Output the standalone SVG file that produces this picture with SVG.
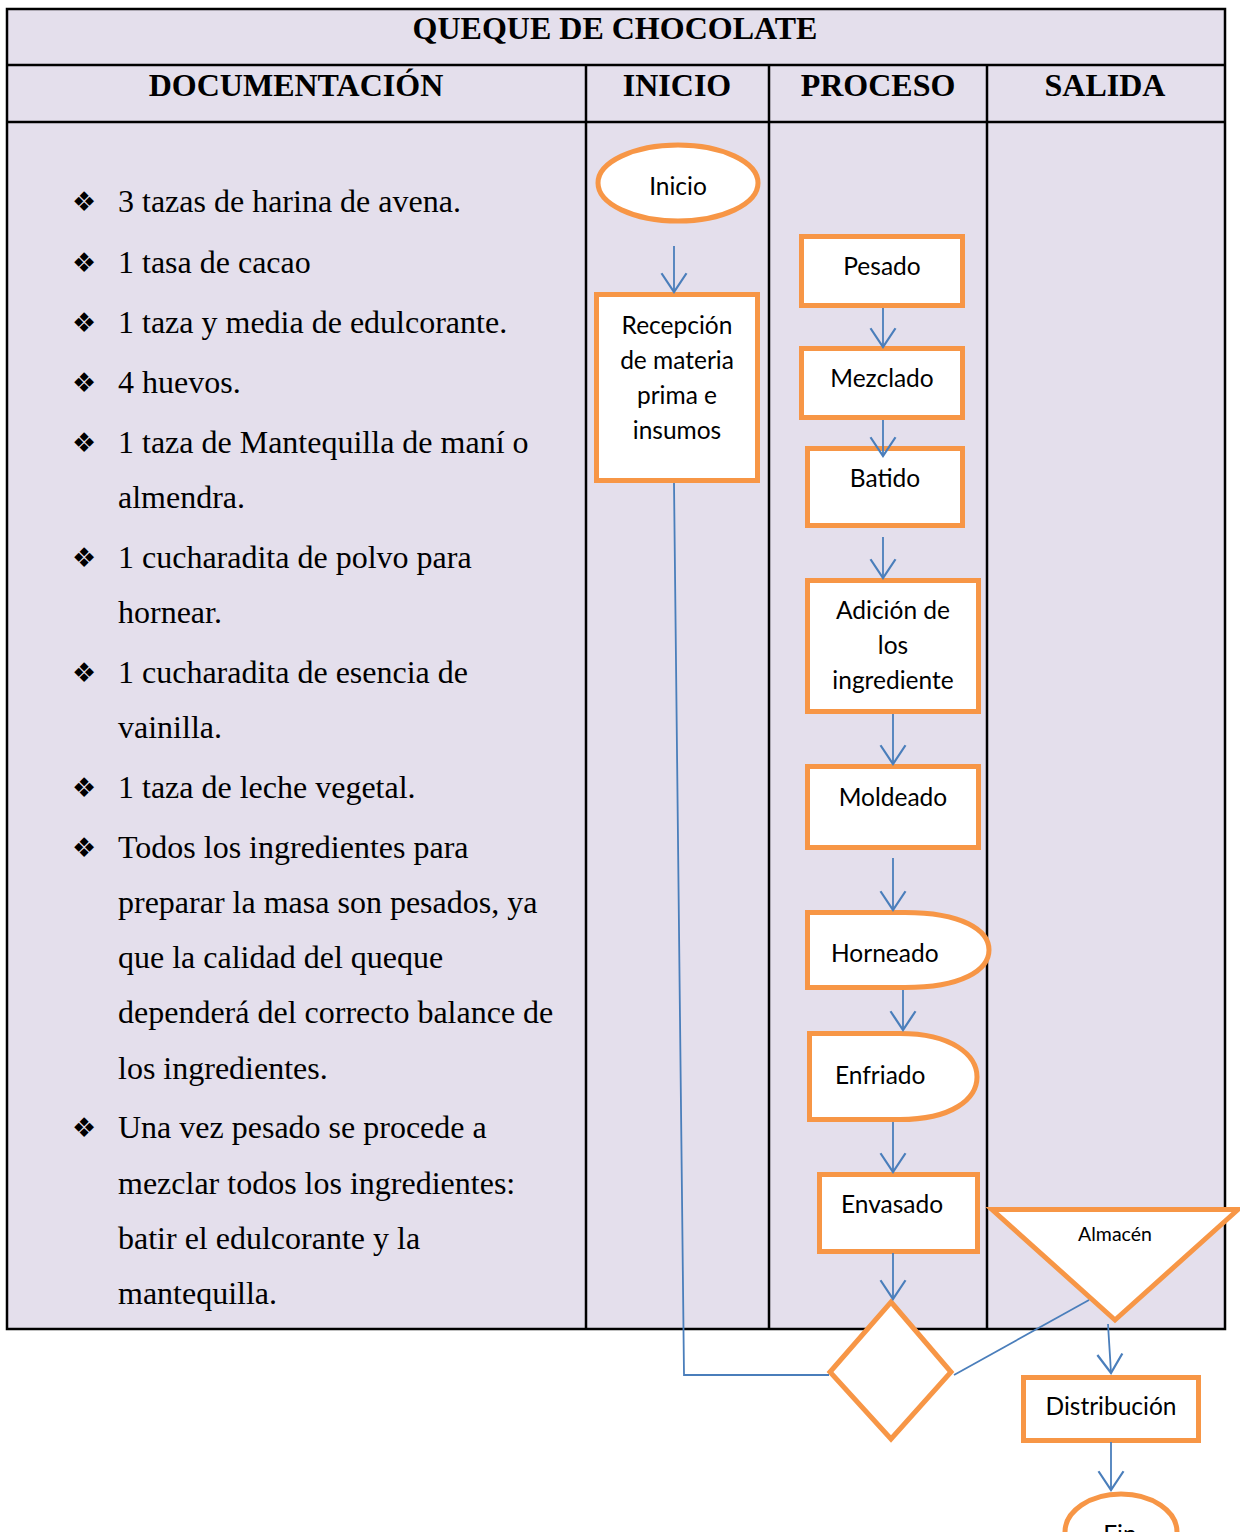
<svg xmlns="http://www.w3.org/2000/svg" width="1240" height="1532" viewBox="0 0 1240 1532">
<defs>
<style>
.tbl{fill:#E4DFEC;stroke:#000;stroke-width:2.5}
.ln{stroke:#000;stroke-width:2.5;fill:none}
.hd{font-family:"Liberation Serif","Times New Roman",serif;font-weight:bold;font-size:32px;fill:#000;text-anchor:middle}
.bd{font-family:"Liberation Serif","Times New Roman",serif;font-size:32px;fill:#000}
.bl{font-family:"DejaVu Sans",sans-serif;font-size:27px;fill:#000;text-anchor:middle}
.nd{fill:#fff;stroke:#F79646;stroke-width:5;stroke-linejoin:miter}
.lb{font-family:Lato,"Open Sans",sans-serif;font-size:24.5px;fill:#000;text-anchor:middle}
.ls{font-family:Lato,"Open Sans",sans-serif;font-size:24.5px;fill:#000}
.sm{font-family:Lato,"Open Sans",sans-serif;font-size:19.5px;fill:#000;text-anchor:middle}
.cn{stroke:#4A7EBB;stroke-width:1.8;fill:none}
</style>
<marker id="ar" markerUnits="userSpaceOnUse" markerWidth="30" markerHeight="30" refX="0" refY="0" viewBox="-17 -12 19 24" orient="auto" overflow="visible">
<path d="M-15,-10 L0,0 L-15,10" fill="none" stroke="#4A7EBB" stroke-width="1.8"/>
</marker>
</defs>

<g id="table">
<rect class="tbl" x="7" y="9" width="1218" height="1320"/>
<line class="ln" x1="7" y1="65" x2="1225" y2="65"/>
<line class="ln" x1="7" y1="122" x2="1225" y2="122"/>
<line class="ln" x1="586" y1="65" x2="586" y2="1329"/>
<line class="ln" x1="769" y1="65" x2="769" y2="1329"/>
<line class="ln" x1="987" y1="65" x2="987" y2="1329"/>
<text class="hd" x="615" y="39">QUEQUE DE CHOCOLATE</text>
<text class="hd" x="296" y="96">DOCUMENTACIÓN</text>
<text class="hd" x="677" y="96">INICIO</text>
<text class="hd" x="878" y="96">PROCESO</text>
<text class="hd" x="1105" y="96">SALIDA</text>
</g>

<g id="documentacion">
<text class="bl" x="84" y="211">❖</text>
<text class="bd" x="118" y="212">3 tazas de harina de avena.</text>
<text class="bl" x="84" y="272">❖</text>
<text class="bd" x="118" y="273">1 tasa de cacao</text>
<text class="bl" x="84" y="332">❖</text>
<text class="bd" x="118" y="333">1 taza y media de edulcorante.</text>
<text class="bl" x="84" y="392">❖</text>
<text class="bd" x="118" y="393">4 huevos.</text>
<text class="bl" x="84" y="452">❖</text>
<text class="bd" x="118" y="453">1 taza de Mantequilla de maní o</text>
<text class="bd" x="118" y="508">almendra.</text>
<text class="bl" x="84" y="567">❖</text>
<text class="bd" x="118" y="568">1 cucharadita de polvo para</text>
<text class="bd" x="118" y="623">hornear.</text>
<text class="bl" x="84" y="682">❖</text>
<text class="bd" x="118" y="683">1 cucharadita de esencia de</text>
<text class="bd" x="118" y="738">vainilla.</text>
<text class="bl" x="84" y="797">❖</text>
<text class="bd" x="118" y="798">1 taza de leche vegetal.</text>
<text class="bl" x="84" y="857">❖</text>
<text class="bd" x="118" y="858">Todos los ingredientes para</text>
<text class="bd" x="118" y="913">preparar la masa son pesados, ya</text>
<text class="bd" x="118" y="968">que la calidad del queque</text>
<text class="bd" x="118" y="1023">dependerá del correcto balance de</text>
<text class="bd" x="118" y="1079">los ingredientes.</text>
<text class="bl" x="84" y="1137">❖</text>
<text class="bd" x="118" y="1138">Una vez pesado se procede a</text>
<text class="bd" x="118" y="1194">mezclar todos los ingredientes:</text>
<text class="bd" x="118" y="1249">batir el edulcorante y la</text>
<text class="bd" x="118" y="1304">mantequilla.</text>
</g>

<g id="n-inicio">
<ellipse class="nd" cx="678" cy="183" rx="80" ry="38"/>
<text class="lb" x="678" y="195">Inicio</text>
</g>
<g id="n-recepcion">
<rect class="nd" x="596.5" y="294.5" width="161" height="186"/>
<text class="lb" x="677" y="334">Recepción</text>
<text class="lb" x="677" y="369">de materia</text>
<text class="lb" x="677" y="404">prima e</text>
<text class="lb" x="677" y="439">insumos</text>
</g>
<g id="n-pesado">
<rect class="nd" x="801.5" y="236.5" width="161" height="69"/>
<text class="lb" x="882" y="275">Pesado</text>
</g>
<g id="n-mezclado">
<rect class="nd" x="801.5" y="348.5" width="161" height="69"/>
<text class="lb" x="882" y="387">Mezclado</text>
</g>
<g id="n-batido">
<rect class="nd" x="807.5" y="448.5" width="155" height="77"/>
<text class="lb" x="885" y="487">Batido</text>
</g>
<g id="n-adicion">
<rect class="nd" x="807.5" y="580.5" width="171" height="131"/>
<text class="lb" x="893" y="619">Adición de</text>
<text class="lb" x="893" y="654">los</text>
<text class="lb" x="893" y="689">ingrediente</text>
</g>
<g id="n-moldeado">
<rect class="nd" x="807.5" y="766.5" width="171" height="81"/>
<text class="lb" x="893" y="806">Moldeado</text>
</g>
<g id="n-horneado">
<path class="nd" d="M807.5,912.5 H905 C962,912.5 989,930 989,950 C989,970 962,987.5 905,987.5 H807.5 Z"/>
<text class="ls" x="831" y="962">Horneado</text>
</g>
<g id="n-enfriado">
<path class="nd" d="M809.5,1033.5 H900 C952,1033.5 977,1055 977,1077 C977,1099 952,1119.5 900,1119.5 H809.5 Z"/>
<text class="ls" x="835" y="1084">Enfriado</text>
</g>
<g id="n-envasado">
<rect class="nd" x="819.5" y="1174.5" width="158" height="77"/>
<text class="lb" x="892" y="1213">Envasado</text>
</g>
<g id="n-decision">
<path class="nd" d="M891,1302 L951,1372 L891,1439 L830,1372 Z"/>
</g>
<g id="n-almacen">
<path class="nd" d="M992,1209.5 L1238,1209.5 L1115,1320 Z"/>
<text class="sm" x="1115" y="1241">Almacén</text>
</g>
<g id="n-distribucion">
<rect class="nd" x="1023.5" y="1377.5" width="175" height="63"/>
<text class="lb" x="1111" y="1415">Distribución</text>
</g>
<g id="n-fin">
<ellipse class="nd" cx="1121" cy="1532" rx="56" ry="38"/>
<text class="lb" x="1120" y="1543">Fin</text>
</g>

<g id="connectors">
<line class="cn" x1="674" y1="246" x2="674" y2="292" marker-end="url(#ar)"/>
<polyline class="cn" points="674,483 684,1375 829,1375"/>
<line class="cn" x1="883" y1="308" x2="883" y2="347" marker-end="url(#ar)"/>
<line class="cn" x1="883" y1="420" x2="883" y2="456" marker-end="url(#ar)"/>
<line class="cn" x1="883" y1="537" x2="883" y2="578" marker-end="url(#ar)"/>
<line class="cn" x1="893" y1="714" x2="893" y2="764" marker-end="url(#ar)"/>
<line class="cn" x1="893" y1="858" x2="893" y2="910" marker-end="url(#ar)"/>
<line class="cn" x1="903" y1="990" x2="903" y2="1030" marker-end="url(#ar)"/>
<line class="cn" x1="893" y1="1122" x2="893" y2="1172" marker-end="url(#ar)"/>
<line class="cn" x1="893" y1="1253" x2="893" y2="1299" marker-end="url(#ar)"/>
<line class="cn" x1="954" y1="1375" x2="1089" y2="1300"/>
<line class="cn" x1="1108" y1="1324" x2="1111" y2="1373" marker-end="url(#ar)"/>
<line class="cn" x1="1111" y1="1442" x2="1111" y2="1490" marker-end="url(#ar)"/>
</g>
</svg>
